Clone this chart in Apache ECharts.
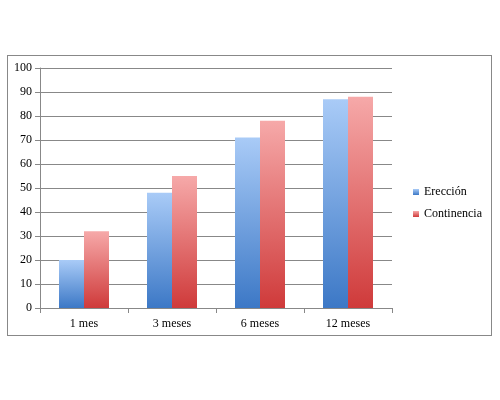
<!DOCTYPE html><html><head><meta charset="utf-8"><script src="https://cdn.jsdelivr.net/npm/echarts@6/dist/echarts.min.js"></script>
<style>html,body{margin:0;background:#fff}#b{position:absolute;left:7px;top:55px;width:485px;height:281px;border:1px solid #888;box-sizing:border-box}#c{width:500px;height:400px}</style></head><body><div id="b"></div><div id="c"></div><script>
const categories=['1 mes','3 meses','6 meses','12 meses'];
const ereccion=[20,48,71,87];
const continencia=[32,55,78,88];
const grad=(a,b)=>new echarts.graphic.LinearGradient(0,0,0,1,[{offset:0,color:a},{offset:1,color:b}]);
const c=echarts.init(document.getElementById('c'));
c.setOption({animation:false,
grid:{left:40,top:68,width:352,height:240},
legend:{orient:'vertical',left:408,top:181,itemWidth:6,itemHeight:6,itemGap:10,icon:'rect',textStyle:{fontFamily:'Liberation Serif',fontSize:12,color:'#000'},data:['Erección','Continencia']},
xAxis:{type:'category',data:categories,axisLine:{lineStyle:{color:'#888'}},axisTick:{show:true,lineStyle:{color:'#888'}},axisLabel:{fontFamily:'Liberation Serif',fontSize:12,color:'#000',margin:10}},
yAxis:{type:'value',min:0,max:100,interval:10,axisLine:{show:true,lineStyle:{color:'#888'}},axisTick:{show:true,lineStyle:{color:'#888'}},splitLine:{lineStyle:{color:'#888'}},axisLabel:{fontFamily:'Liberation Serif',fontSize:12,color:'#000'}},
series:[{name:'Erección',type:'bar',data:ereccion,barWidth:25,barGap:'0%',itemStyle:{color:grad('#a9cbf7','#3c78c6')}},
{name:'Continencia',type:'bar',data:continencia,barWidth:25,itemStyle:{color:grad('#f6a9a9','#cf3a3a')}}]});
</script></body></html>
